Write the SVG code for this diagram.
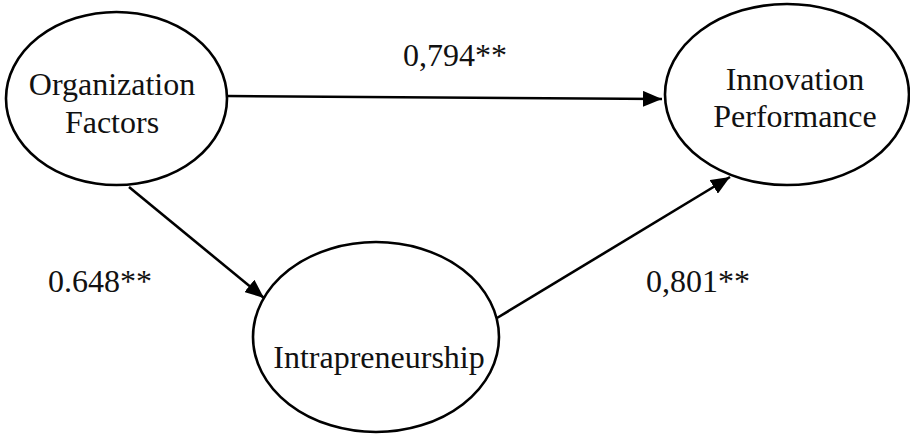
<svg xmlns="http://www.w3.org/2000/svg" width="910" height="436" viewBox="0 0 910 436">
<style>
.node{fill:#fff;stroke:#000;stroke-width:2.6}
.lbl{font-family:"Liberation Serif","Times New Roman",serif;font-size:32px;fill:#111;text-anchor:middle}
.edge{stroke:#000;stroke-width:2.6;fill:none}
</style>
<defs>
<marker id="ah" markerUnits="userSpaceOnUse" markerWidth="20" markerHeight="16" refX="19" refY="8" orient="auto">
<path d="M0,0 L19,8 L0,16 z" fill="#000"/>
</marker>
</defs>
<rect width="910" height="436" fill="#fff"/>
<g id="org">
<ellipse class="node" cx="116.5" cy="98.5" rx="110.5" ry="86.5"/>
<text class="lbl" x="112" y="95">Organization</text>
<text class="lbl" x="112" y="133">Factors</text>
</g>
<g id="innov">
<ellipse class="node" cx="787" cy="94.5" rx="122" ry="90.5"/>
<text class="lbl" x="795" y="90">Innovation</text>
<text class="lbl" x="795" y="127">Performance</text>
</g>
<g id="intra">
<ellipse class="node" cx="376" cy="337" rx="123" ry="95"/>
<text class="lbl" x="379" y="368">Intrapreneurship</text>
</g>
<g id="edges">
<line class="edge" x1="227" y1="96" x2="662" y2="99" marker-end="url(#ah)"/>
<line class="edge" x1="129" y1="187" x2="264" y2="298" marker-end="url(#ah)"/>
<line class="edge" x1="497" y1="318" x2="730" y2="177" marker-end="url(#ah)"/>
<text class="lbl" x="455" y="66">0,794**</text>
<text class="lbl" x="100" y="292">0.648**</text>
<text class="lbl" x="698" y="292">0,801**</text>
</g>
</svg>
